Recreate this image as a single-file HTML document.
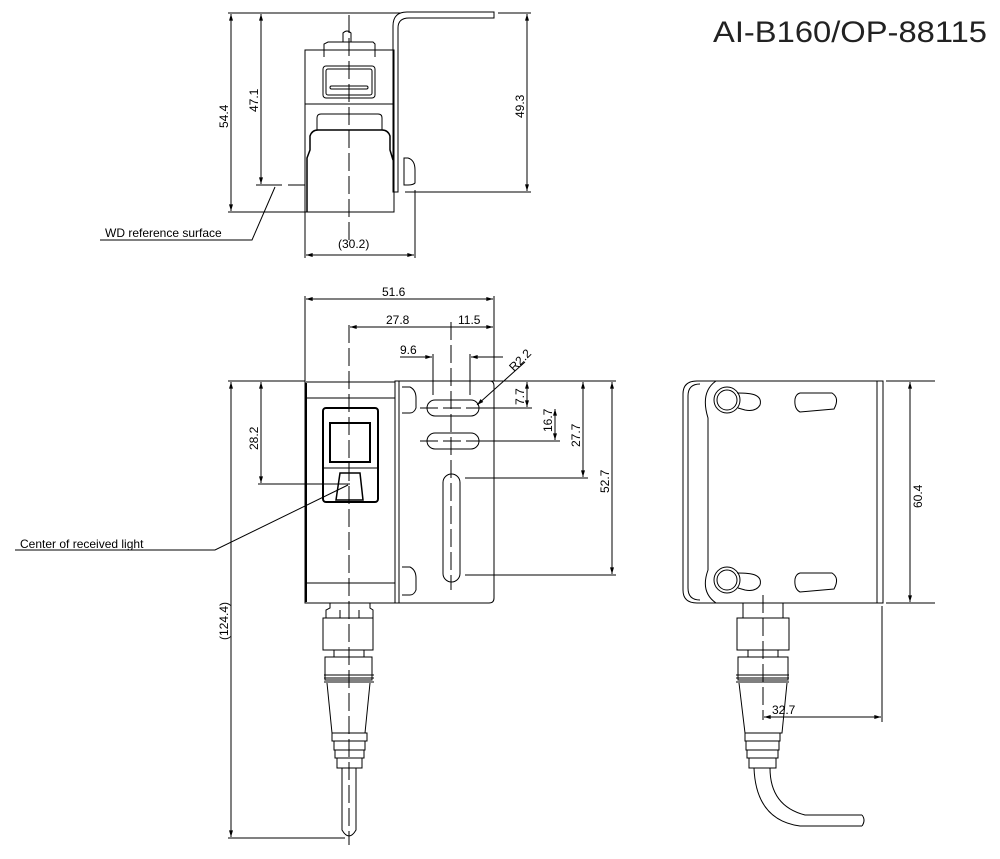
<!DOCTYPE html>
<html><head><meta charset="utf-8"><style>
html,body{margin:0;padding:0;background:#fff;}
svg{display:block}
text{font-family:"Liberation Sans",sans-serif;fill:#000}
</style></head><body>
<svg width="1000" height="859" viewBox="0 0 1000 859" xmlns="http://www.w3.org/2000/svg">
<defs>
<marker id="a" viewBox="0 0 10 6" refX="10" refY="3" markerWidth="8" markerHeight="4" orient="auto-start-reverse"><path d="M0,0L10,3L0,6z" fill="#000"/></marker>
</defs>
<g fill="none" stroke="#000" stroke-width="1">
<!-- title -->
<!-- ===== TOP VIEW ===== -->
<line x1="228" y1="13" x2="400" y2="13"/>
<line x1="498" y1="13" x2="531" y2="13"/>
<line x1="231" y1="14" x2="231" y2="211" marker-start="url(#a)" marker-end="url(#a)"/>
<line x1="261" y1="14" x2="261" y2="184" marker-start="url(#a)" marker-end="url(#a)"/>
<line x1="527" y1="14" x2="527" y2="191" marker-start="url(#a)" marker-end="url(#a)"/>
<line x1="228" y1="212" x2="305" y2="212"/>
<line x1="256" y1="185" x2="282" y2="185"/><line x1="288" y1="185" x2="305" y2="185"/>
<line x1="405" y1="192" x2="531" y2="192"/>
<!-- bracket -->
<path d="M393,192 L393,26 Q393,12 407,12 L494,12 L494,18 L409,18 Q398,18 398,28 L398,192 Z"/>
<!-- body -->
<rect x="305" y="50" width="89" height="162"/>
<path d="M324,57 L324,44 L328,42 L373,42 L375,44 L375,57"/>
<path d="M343,42 L343,33 Q347,29 351,33 L351,42"/>
<rect x="323" y="66" width="52" height="32" rx="3"/>
<rect x="326" y="69" width="46" height="26" rx="2"/>
<rect x="330" y="86" width="38" height="3" rx="1.5"/>
<line x1="305" y1="104" x2="394" y2="104"/>
<path d="M317,130 L317,118 Q317,114 321,114 L378,114 Q382,114 382,118 L382,130"/>
<path d="M307,212 L307,158 L310,150 L310,136 Q312,130 318,130 L382,130 Q388,130 390,136 L390,150 L393,160" stroke-width="1.5"/>
<path d="M404,185 L404,158 L408,158 Q415,160 415,170 L415,183 Q413,185 408,185 Z"/>
<line x1="305" y1="212" x2="305" y2="258"/><line x1="415" y1="190" x2="415" y2="258"/>
<line x1="306" y1="255" x2="414" y2="255" marker-start="url(#a)" marker-end="url(#a)"/>
<line x1="349" y1="15" x2="349" y2="245" stroke-dasharray="18,5"/>
<polyline points="275,187 252,240 100,240"/>
<!-- ===== FRONT VIEW ===== -->
<line x1="305" y1="296" x2="305" y2="381"/><line x1="494" y1="296" x2="494" y2="381"/>
<line x1="306" y1="299" x2="493" y2="299" marker-start="url(#a)" marker-end="url(#a)"/>
<line x1="350" y1="327" x2="493" y2="327" marker-start="url(#a)" marker-end="url(#a)"/>
<line x1="451" y1="322" x2="451" y2="590" stroke-dasharray="18,5"/>
<line x1="433" y1="354" x2="433" y2="395"/><line x1="470" y1="354" x2="470" y2="395"/>
<line x1="400" y1="357" x2="432" y2="357" marker-end="url(#a)"/><line x1="503" y1="357" x2="471" y2="357" marker-end="url(#a)"/>
<line x1="525" y1="362" x2="477" y2="405" marker-end="url(#a)"/>
<!-- right dims -->
<line x1="398" y1="381" x2="616" y2="381"/>
<line x1="480" y1="408" x2="532" y2="408"/>
<line x1="480" y1="441" x2="560" y2="441"/>
<line x1="465" y1="478" x2="588" y2="478"/>
<line x1="465" y1="575" x2="616" y2="575"/>
<line x1="527" y1="382" x2="527" y2="407" marker-start="url(#a)" marker-end="url(#a)"/>
<line x1="555" y1="409" x2="555" y2="440" marker-start="url(#a)" marker-end="url(#a)"/>
<line x1="583" y1="382" x2="583" y2="477" marker-start="url(#a)" marker-end="url(#a)"/>
<line x1="612" y1="382" x2="612" y2="574" marker-start="url(#a)" marker-end="url(#a)"/>
<!-- left dims -->
<line x1="228" y1="381" x2="305" y2="381"/>
<line x1="258" y1="484" x2="350" y2="484"/>
<line x1="261" y1="382" x2="261" y2="483" marker-start="url(#a)" marker-end="url(#a)"/>
<line x1="231" y1="382" x2="231" y2="837" marker-start="url(#a)" marker-end="url(#a)"/>
<line x1="228" y1="838" x2="345" y2="838"/>
<!-- body -->
<rect x="305" y="382" width="90" height="221"/>
<line x1="306" y1="383" x2="306" y2="602" stroke-width="2"/>
<line x1="305" y1="398" x2="395" y2="398"/><line x1="305" y1="583" x2="395" y2="583"/>
<rect x="323" y="408" width="55" height="94" rx="3" stroke-width="2"/>
<rect x="330" y="423" width="40" height="39" stroke-width="2"/>
<line x1="323" y1="468" x2="378" y2="468"/>
<path d="M340,473 L360,473 L363,500 L336,500 Z" stroke-width="1.5"/>
<!-- bracket plate -->
<path d="M395,381 L490,381 Q494,381 494,386 L494,598 Q494,603 489,603 L395,603 Z"/>
<line x1="399" y1="381" x2="399" y2="603"/>
<path d="M402,387 L410,387 Q416,390 416,398 L416,408 Q414,413 410,413 L402,413"/>
<path d="M402,567 L410,567 Q416,570 416,578 L416,590 Q414,595 410,595 L402,595"/>
<rect x="427" y="400" width="52" height="16" rx="8"/>
<rect x="427" y="433" width="52" height="16" rx="8"/>
<rect x="443" y="474" width="17" height="108" rx="8.5"/>
<line x1="420" y1="408" x2="490" y2="408" stroke-dasharray="18,5"/>
<line x1="420" y1="441" x2="490" y2="441" stroke-dasharray="18,5"/>
<line x1="349" y1="325" x2="349" y2="845" stroke-dasharray="18,5"/>
<polyline points="348,485 215,550 15,550"/>
<!-- front connector -->
<path d="M330,603 L330,608 L326,610 L326,618 M370,603 L370,608 L373,610 L373,618"/>
<line x1="340" y1="610" x2="340" y2="618"/><line x1="359" y1="610" x2="359" y2="618"/>
<rect x="323" y="618" width="50" height="32"/>
<rect x="334" y="650" width="30" height="7"/>
<rect x="325" y="657" width="47" height="23"/>
<path d="M324,675 L374,675 M324,678 L374,678 M324,682 L374,682"/>
<path d="M327,683 L332,733 L365,733 L370,683"/>
<rect x="332" y="733" width="35" height="8"/><rect x="334" y="741" width="31" height="9"/><rect x="335" y="750" width="29" height="8"/><rect x="337" y="758" width="25" height="10"/>
<path d="M342,768 L342,830 Q349,842 356,830 L356,768"/>
<!-- ===== RIGHT VIEW ===== -->
<path d="M697,381 L883,381 L883,603 L697,603 Q683,603 683,590 L683,394 Q683,381 697,381 Z"/>
<path d="M700,384 Q688,384 688,396 L688,588 Q688,600 700,600"/>
<line x1="877" y1="381" x2="877" y2="603"/>
<path d="M716,381 Q700,392 708,418 L708,570 Q700,592 716,603"/>
<circle cx="727" cy="400" r="13"/><circle cx="727" cy="400" r="10"/>
<circle cx="727" cy="580" r="13"/><circle cx="727" cy="580" r="10"/>
<path d="M737,393 Q750,393 755,395 Q762,398 760,405 Q756,412 745,410 L738,408"/>
<path d="M737,573 Q750,573 755,575 Q762,578 760,585 Q756,592 745,590 L738,588"/>
<path d="M800,393 L832,393 Q840,398 834,409 L800,412 Q794,409 795,399 Q796,394 800,393 Z"/>
<path d="M800,573 L832,573 Q840,578 834,589 L800,592 Q794,589 795,579 Q796,574 800,573 Z"/>
<line x1="886" y1="381" x2="935" y2="381"/><line x1="886" y1="603" x2="935" y2="603"/>
<line x1="910" y1="382" x2="910" y2="602" marker-start="url(#a)" marker-end="url(#a)"/>
<line x1="882" y1="606" x2="882" y2="722"/>
<line x1="764" y1="717" x2="881" y2="717" marker-start="url(#a)" marker-end="url(#a)"/>
<line x1="763" y1="595" x2="763" y2="720" stroke-dasharray="18,5"/>
<rect x="743" y="603" width="40" height="15"/>
<rect x="737" y="618" width="52" height="32"/>
<rect x="748" y="650" width="30" height="7"/>
<rect x="738" y="657" width="50" height="23"/>
<path d="M736,675 L789,675 M736,678 L789,678 M736,682 L789,682"/>
<path d="M739,683 L745,733 L782,733 L787,683"/>
<rect x="745" y="733" width="35" height="8"/><rect x="746" y="741" width="33" height="9"/><rect x="747" y="750" width="31" height="8"/><rect x="749" y="758" width="27" height="10"/>
<path d="M754,768 Q756,820 800,826 L862,826 M770,768 Q770,806 805,815 L862,815"/>
<path d="M862,815 Q866,820 862,826"/>
</g>
<text x="713" y="42" font-size="30" textLength="274" lengthAdjust="spacingAndGlyphs" style="fill:#222;font-weight:300">AI-B160/OP-88115</text>
<g font-size="12">
<text x="105" y="237">WD reference surface</text>
<text x="338" y="248">(30.2)</text>
<text x="382" y="296">51.6</text>
<text x="386" y="324">27.8</text>
<text x="458" y="324">11.5</text>
<text x="400" y="354">9.6</text>
<text x="20" y="548">Center of received light</text>
<text x="772" y="714">32.7</text>
<text transform="translate(228,128) rotate(-90)">54.4</text>
<text transform="translate(258,112) rotate(-90)">47.1</text>
<text transform="translate(524,118) rotate(-90)">49.3</text>
<text transform="translate(524,405) rotate(-90)">7.7</text>
<text transform="translate(552,432) rotate(-90)">16.7</text>
<text transform="translate(580,447) rotate(-90)">27.7</text>
<text transform="translate(609,493) rotate(-90)">52.7</text>
<text transform="translate(258,450) rotate(-90)">28.2</text>
<text transform="translate(228,640) rotate(-90)">(124.4)</text>
<text transform="translate(922,508) rotate(-90)">60.4</text>
<text transform="translate(514,372) rotate(-45)">R2.2</text>
</g>
</svg>
</body></html>
